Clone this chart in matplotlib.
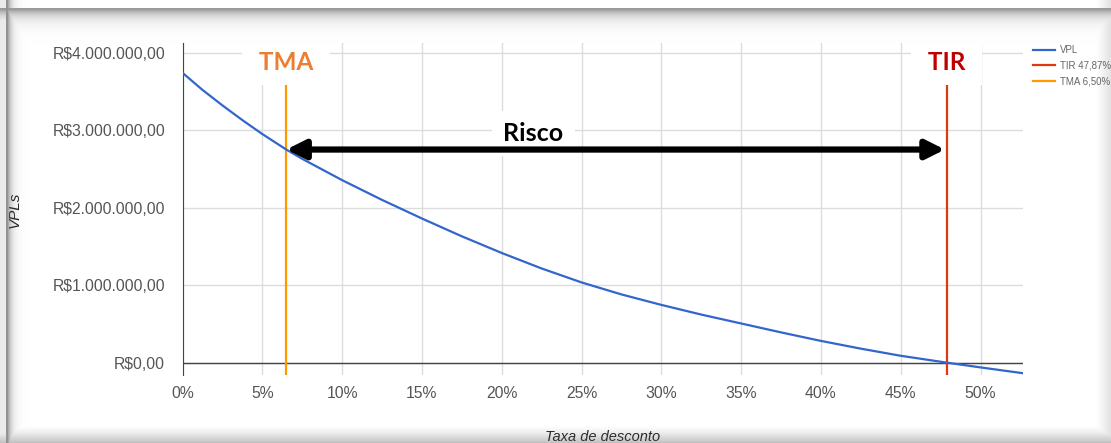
import numpy as np
import matplotlib
matplotlib.use("Agg")
import matplotlib.pyplot as plt
from matplotlib.ticker import FuncFormatter, MultipleLocator

plt.rcParams["font.family"] = ["Liberation Sans", "DejaVu Sans"]

# VPL em função da taxa de desconto (em %)
taxas = [0, 1.25, 2.5, 3.75, 5, 6.5, 7.5, 10, 12.5, 15, 17.5, 20, 22.5, 25,
         27.5, 30, 32.5, 35, 37.5, 40, 42.5, 45, 47.87, 50, 52.66]
vpl = [3.74e6, 3.52e6, 3.32e6, 3.13e6, 2.95e6, 2.75e6, 2.63e6, 2.355e6,
       2.10e6, 1.86e6, 1.63e6, 1.415e6, 1.215e6, 1.035e6, 0.88e6, 0.745e6,
       0.62e6, 0.505e6, 0.39e6, 0.28e6, 0.18e6, 0.088e6, 0.0, -0.062e6,
       -0.137e6]
tma = 6.50
tir = 47.87
vpl_tma = vpl[taxas.index(tma)]

AZUL = "#3366cc"
VERMELHO = "#dc3912"
LARANJA = "#ff9900"


def reais(v, pos=None):
    s = f"{v:,.2f}".replace(",", "X").replace(".", ",").replace("X", ".")
    return f"R${s}"


fig = plt.figure(figsize=(11.11, 4.43), dpi=100)
fig.patch.set_facecolor("white")
ax = fig.add_axes([182.5 / 1111, 1 - 375 / 443, (1023 - 182.5) / 1111, (375 - 43) / 443])

ax.plot(taxas, vpl, color=AZUL, lw=1.6, zorder=4, label="VPL")
ax.axvline(tir, color=VERMELHO, lw=1.6, zorder=3, label=f"TIR {tir:.2f}%".replace(".", ","))
ax.axvline(tma, color=LARANJA, lw=1.6, zorder=3, label=f"TMA {tma:.2f}%".replace(".", ","))
ax.axhline(0, color="#444444", lw=1.0, zorder=2)

ax.set_xlim(0, 52.66)
ax.set_ylim(-0.16e6, 4.125e6)
ax.xaxis.set_major_locator(MultipleLocator(5))
ax.yaxis.set_major_locator(MultipleLocator(1e6))
ax.xaxis.set_major_formatter(FuncFormatter(lambda v, p: f"{v:.0f}%"))
ax.yaxis.set_major_formatter(FuncFormatter(reais))
ax.grid(True, color="#dcdcdc", lw=1.0, zorder=0)
ax.set_axisbelow(True)
for s in ("top", "right", "bottom"):
    ax.spines[s].set_visible(False)
ax.spines["left"].set_color("#444444")
ax.tick_params(length=0, labelsize=11.3, labelcolor="#555555")
ax.tick_params(axis="y", pad=12.5)
ax.tick_params(axis="x", pad=8)

ax.set_ylabel("VPLs", fontstyle="italic", fontsize=11, color="#222222")
ax.yaxis.set_label_coords(22 / 1111, 1 - 210 / 443, transform=fig.transFigure)
ax.set_xlabel("Taxa de desconto", fontstyle="italic", fontsize=10.5, color="#222222")
ax.xaxis.set_label_coords(603 / 1111, 1 - 430 / 443, transform=fig.transFigure)

# rótulos TMA / TIR com fundo branco cobrindo a grade
caixa = dict(boxstyle="square,pad=0.45", fc="white", ec="none")
ax.text(tma, 3.875e6, " TMA ", color="#ed7d31", fontsize=17.5, fontweight="bold",
        family="Lato", ha="center", va="center", bbox=caixa, zorder=5)
ax.text(tir, 3.875e6, " TIR ", color="#c00000", fontsize=17.5, fontweight="bold",
        family="Lato", ha="center", va="center", bbox=caixa, zorder=5)

# seta de risco entre TMA e TIR
ax.annotate("", xy=(tma, vpl_tma), xytext=(tir - 0.1, vpl_tma),
            arrowprops=dict(arrowstyle="<|-|>", color="black", lw=4.5,
                            mutation_scale=28, shrinkA=0, shrinkB=0), zorder=6)
ax.text((tma + tir) / 2 - 5.2, 2.96e6, "Risco", color="black", fontsize=18,
        fontweight="bold", family="Lato", ha="center", va="center",
        bbox=dict(boxstyle="square,pad=0.45", fc="white", ec="none"), zorder=5)

leg = ax.legend(loc="upper left", bbox_to_anchor=(1033 / 1111, 1 - 45 / 443),
                bbox_transform=fig.transFigure, frameon=False, fontsize=7,
                handlelength=2.3, handletextpad=0.45, labelspacing=0.6,
                borderaxespad=0, borderpad=0, labelcolor="#666666")
for h in leg.get_lines():
    h.set_linewidth(1.6)

# moldura sombreada da captura de tela
H, W = 443, 1111
yy, xx = np.mgrid[0:H, 0:W].astype(float)
topo = np.where(yy < 8, 0.0, 0.6 * np.exp(-np.clip(yy - 9, 0, None) / 7.0))
esq = np.where(xx < 6, 0.12, 0.65 * np.exp(-np.clip(xx - 7, 0, None) / 4.0))
base = np.clip((yy - 424) / 19.0, 0, 1) ** 1.5 * 0.4
dir_ = np.clip((xx - 1096) / 15.0, 0, 1) * 0.18
alfa = np.maximum.reduce([topo, esq, base, dir_])
rgba = np.zeros((H, W, 4))
rgba[..., :3] = 0.35
rgba[..., 3] = alfa
moldura = fig.add_axes([0, 0, 1, 1], zorder=10)
moldura.imshow(rgba, aspect="auto", interpolation="bilinear")
moldura.axis("off")

fig.savefig("out.png", dpi=100, facecolor="white")
